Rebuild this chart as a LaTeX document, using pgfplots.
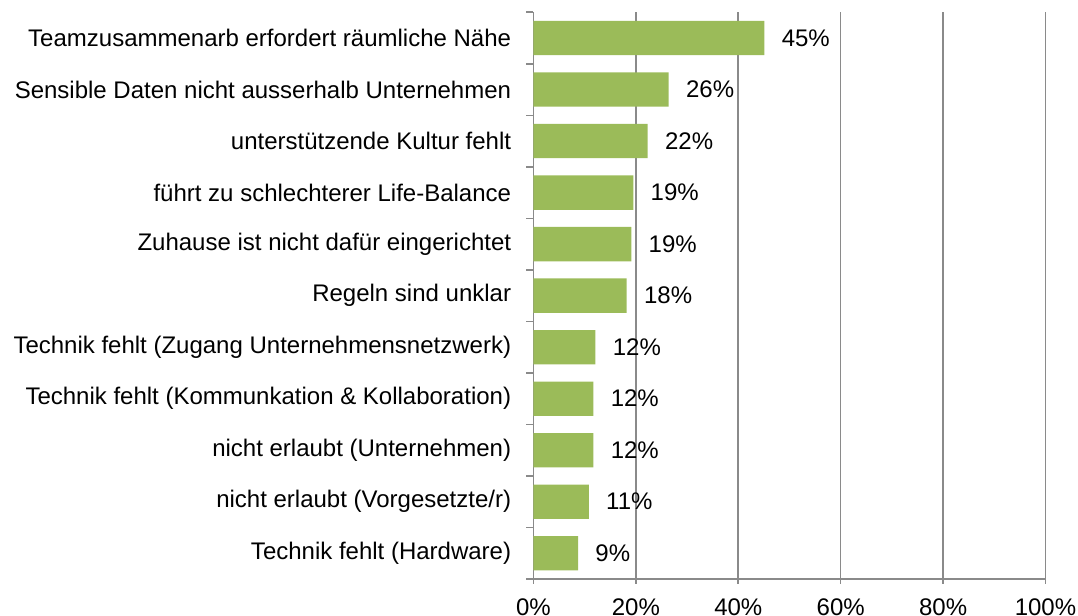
\documentclass[border=0pt]{standalone}
\usepackage{pgfplots}
\usepackage{pgfplotstable}
\pgfplotsset{compat=1.18}
\usepackage{fontspec}
\setmainfont{Liberation Sans}
\definecolor{bargreen}{RGB}{155,187,89}
\definecolor{gridgray}{RGB}{138,138,138}
\pgfplotstableread{
y x lab
10 45.1 45
9 26.4 26
8 22.3 22
7 19.5 19
6 19.1 19
5 18.2 18
4 12.1 12
3 11.7 12
2 11.7 12
1 10.8 11
0 8.7 9
}\data
\begin{document}
\fontsize{12pt}{14pt}\selectfont
\begin{tikzpicture}
\path[use as bounding box] (0,0) rectangle (539pt,308pt);
\begin{axis}[
  at={(266.75pt,18.5pt)}, anchor=south west,
  scale only axis, width=256pt, height=283.35pt,
  xbar, bar width=17.15pt,
  xmin=0, xmax=100, ymin=-0.5, ymax=10.5,
  axis lines*=left,
  axis line style={-, draw=gridgray, line width=0.8pt},
  xtick={0,20,...,100},
  xticklabel={\pgfmathprintnumber{\tick}\%},
  /pgf/number format/assume math mode=true,
  xmajorgrids,
  major grid style={draw=gridgray, line width=0.8pt},
  tick align=outside,
  major tick length=2.5pt,
  minor tick length=3.5pt,
  tick style={draw=gridgray, line width=0.8pt},
  ytick={0,...,10},
  minor ytick={-0.5,0.5,...,10.5},
  every major y tick/.append style={draw=none},
  yticklabels={Technik fehlt (Hardware), nicht erlaubt (Vorgesetzte/r), nicht erlaubt (Unternehmen), Technik fehlt (Kommunkation \& Kollaboration), Technik fehlt (Zugang Unternehmensnetzwerk), Regeln sind unklar, Zuhause ist nicht dafür eingerichtet, führt zu schlechterer Life-Balance, unterstützende Kultur fehlt, Sensible Daten nicht ausserhalb Unternehmen, Teamzusammenarb erfordert räumliche Nähe},
  yticklabel style={xshift=-4.5pt, anchor=east},
  xticklabel style={yshift=-3.2pt, anchor=north},
  point meta=explicit symbolic,
  nodes near coords={\pgfplotspointmeta\%},
  nodes near coords style={anchor=west, xshift=4.5pt, text=black},
]
\addplot[fill=bargreen, draw=none] table[x=x, y=y, meta=lab] {\data};
\end{axis}
\end{tikzpicture}
\end{document}
